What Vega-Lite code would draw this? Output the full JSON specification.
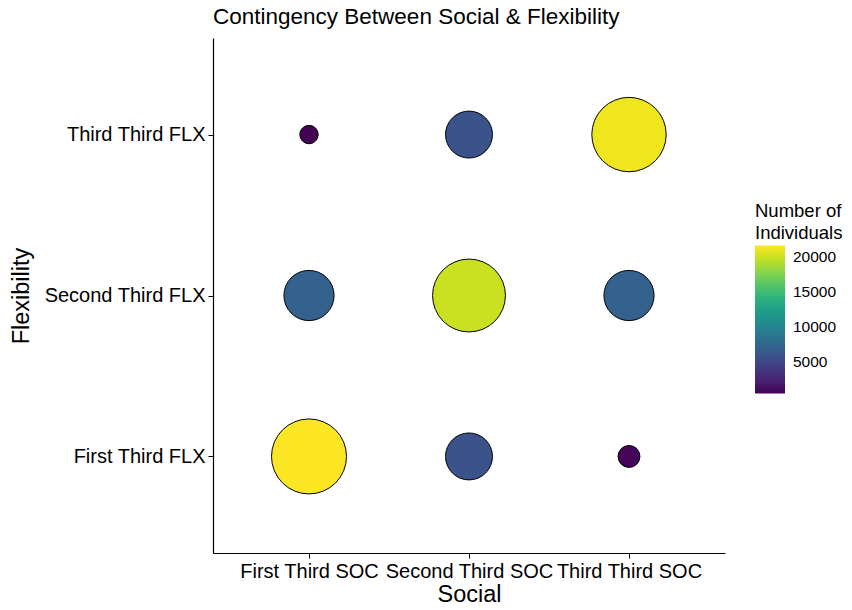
{
  "$schema": "https://vega.github.io/schema/vega-lite/v6.json",
  "width": 512,
  "height": 515,
  "autosize": {"type": "none"},
  "padding": {"left": 213, "top": 38, "right": 127, "bottom": 57},
  "background": "white",
  "title": {
    "text": "Contingency Between Social & Flexibility",
    "anchor": "start",
    "frame": "group",
    "fontSize": 22.5,
    "fontWeight": "normal",
    "font": "Liberation Sans",
    "color": "black",
    "offset": 10
  },
  "data": {
    "values": [
      {"Social": "First Third SOC", "Flexibility": "First Third FLX", "n": 21700},
      {"Social": "First Third SOC", "Flexibility": "Second Third FLX", "n": 6900},
      {"Social": "First Third SOC", "Flexibility": "Third Third FLX", "n": 400},
      {"Social": "Second Third SOC", "Flexibility": "First Third FLX", "n": 5700},
      {"Social": "Second Third SOC", "Flexibility": "Second Third FLX", "n": 20000},
      {"Social": "Second Third SOC", "Flexibility": "Third Third FLX", "n": 5700},
      {"Social": "Third Third SOC", "Flexibility": "First Third FLX", "n": 650},
      {"Social": "Third Third SOC", "Flexibility": "Second Third FLX", "n": 6900},
      {"Social": "Third Third SOC", "Flexibility": "Third Third FLX", "n": 21200}
    ]
  },
  "mark": {"type": "point", "filled": true, "shape": "circle", "stroke": "black", "strokeWidth": 1, "opacity": 1},
  "encoding": {
    "x": {
      "field": "Social",
      "type": "nominal",
      "sort": ["First Third SOC", "Second Third SOC", "Third Third SOC"],
      "scale": {"type": "point", "padding": 0.6},
      "axis": {"labelAngle": 0, "title": "Social", "labelPadding": 3, "titlePadding": 1}
    },
    "y": {
      "field": "Flexibility",
      "type": "nominal",
      "sort": ["Third Third FLX", "Second Third FLX", "First Third FLX"],
      "scale": {"type": "point", "padding": 0.6},
      "axis": {"title": "Flexibility", "labelPadding": 3, "titlePadding": 10}
    },
    "color": {
      "field": "n",
      "type": "quantitative",
      "scale": {"scheme": "viridis", "domain": [400, 21700]},
      "legend": {
        "type": "gradient",
        "title": ["Number of", "\u2002Individuals"],
        "orient": "none",
        "legendX": 542,
        "legendY": 164,
        "values": [5000, 10000, 15000, 20000],
        "format": "d",
        "gradientLength": 148,
        "gradientThickness": 30,
        "gradientStrokeWidth": 0,
        "titleFontSize": 18.5,
        "titleFontWeight": "normal",
        "titleLineHeight": 22,
        "titlePadding": 3,
        "titleColor": "black",
        "labelFontSize": 15.5,
        "labelColor": "black",
        "labelOffset": 8,
        "padding": 0
      }
    },
    "size": {
      "field": "n",
      "type": "quantitative",
      "scale": {"type": "pow", "exponent": 0.7, "domain": [399, 21701], "range": [340, 5625], "zero": false},
      "legend": null
    }
  },
  "config": {
    "font": "Liberation Sans",
    "view": {"stroke": null},
    "axis": {
      "grid": false,
      "domainColor": "black",
      "domainWidth": 1.2,
      "tickColor": "black",
      "tickSize": 5,
      "labelColor": "black",
      "labelFontSize": 20,
      "titleColor": "black",
      "titleFontSize": 23.5,
      "titleFontWeight": "normal",
      "labelFont": "Liberation Sans",
      "titleFont": "Liberation Sans"
    },
    "legend": {"labelFont": "Liberation Sans", "titleFont": "Liberation Sans"}
  }
}
